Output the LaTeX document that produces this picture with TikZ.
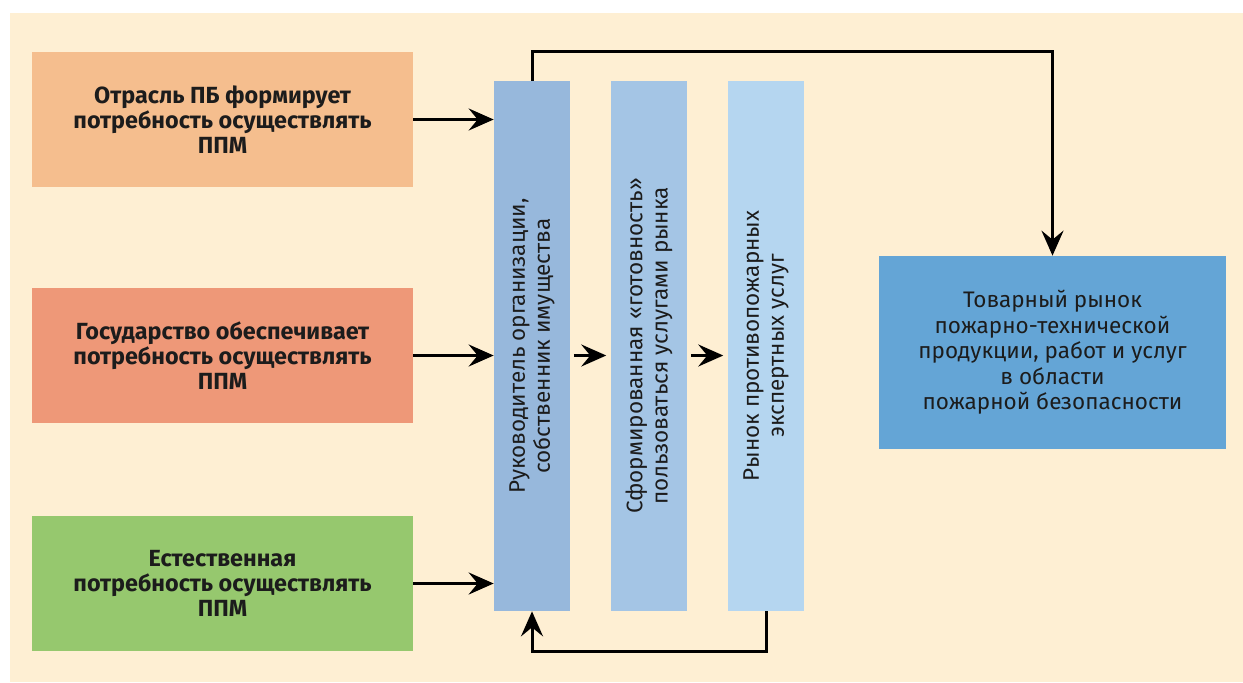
\documentclass[tikz,border=0pt]{standalone}
\usepackage{fontspec}
\setmainfont{Fira Sans}
\usetikzlibrary{arrows.meta,positioning}

\definecolor{bgbeige}{HTML}{FEEFD3}
\definecolor{boxorange}{HTML}{F5BE8E}
\definecolor{boxred}{HTML}{EE9878}
\definecolor{boxgreen}{HTML}{96C86E}
\definecolor{colA}{HTML}{97B8DC}
\definecolor{colB}{HTML}{A4C5E5}
\definecolor{colC}{HTML}{B5D6F0}
\definecolor{boxblue}{HTML}{64A5D6}
\definecolor{txt}{HTML}{1C1C1C}

\tikzset{
    srcbox/.style={minimum width=7.62cm, minimum height=2.7cm, inner sep=0pt,
        align=center, text=txt, font=\bfseries\fontsize{13.3}{14.3}\selectfont},
    colbox/.style={minimum width=1.52cm, minimum height=10.6cm, inner sep=0pt},
    coltext/.style={rotate=90, align=center, text=txt,
        font=\fontsize{12.8}{14.3}\selectfont},
    link/.style={line width=1.7pt, -{Stealth[length=5mm, width=4.4mm, inset=1.8mm]}}
}

\begin{document}
\begin{tikzpicture}[>=Stealth]
    \useasboundingbox (0,0) rectangle (24.86,13.64);
    \fill[white] (0,0) rectangle (24.86,13.64);
    \fill[bgbeige] (0.2,0) rectangle (24.86,13.38);

    % left boxes
    \node[srcbox, fill=boxorange] (otr) at (4.45,11.25) {Отрасль ПБ формирует\\потребность осуществлять\\ППМ};
    \node[srcbox, fill=boxred] (gos) at (4.45,6.53) {Государство обеспечивает\\потребность осуществлять\\ППМ};
    \node[srcbox, fill=boxgreen] (est) at (4.45,1.97) {Естественная\\потребность осуществлять\\ППМ};

    % vertical columns
    \node[colbox, fill=colA] (ruk) at (10.64,6.72) {};
    \node[colbox, fill=colB] (gotov) at (12.98,6.72) {};
    \node[colbox, fill=colC] (rynok) at (15.32,6.72) {};
    \node[coltext] (rukT) at (ruk) {Руководитель организации,\\собственник имущества};
    \node[coltext] (gotovT) at (gotov) {Сформированная «готовность»\\пользоваться услугами рынка};
    \node[coltext] (rynokT) at (rynok) {Рынок противопожарных\\экспертных услуг};

    % right box
    \node[minimum width=6.94cm, minimum height=3.86cm, inner sep=0pt, fill=boxblue,
        align=center, text=txt, font=\fontsize{12.8}{14.5}\selectfont] (tovar) at (21.05,6.59)
        {Товарный рынок\\пожарно-технической\\продукции, работ и услуг\\в области\\пожарной безопасности};

    % arrows
    \draw[link] (otr.east) -- (otr.east -| ruk.west);
    \draw[link] (gos.east) -- (gos.east -| ruk.west);
    \draw[link] (est.east) -- (est.east -| ruk.west);
    \draw[link, shorten <=2pt, shorten >=2.5pt] (gos.east -| ruk.east) -- (gos.east -| gotov.west);
    \draw[link, shorten <=2pt, shorten >=2.5pt] (gos.east -| gotov.east) -- (gos.east -| rynok.west);

    \draw[link] (ruk.north) -- ++(0,0.58) -| (tovar.north);
    \draw[link] (rynok.south) -- ++(0,-0.8) -| (ruk.south);

\end{tikzpicture}
\end{document}
